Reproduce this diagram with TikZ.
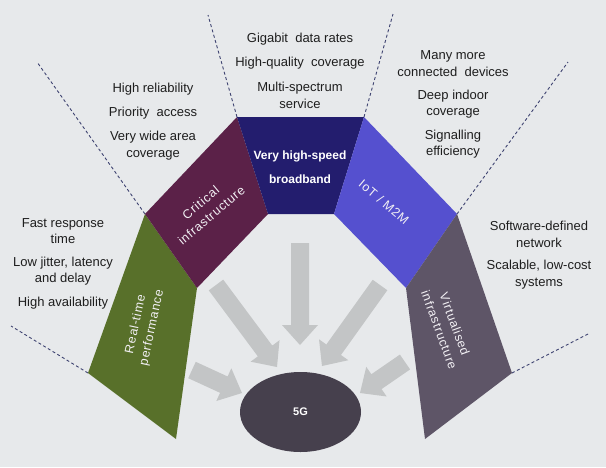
\documentclass[tikz,border=0pt]{standalone}
\usepackage{fontspec}
\setmainfont{Liberation Sans}
\usetikzlibrary{calc,shapes.geometric}
\definecolor{bgc}{HTML}{E7E9EB}
\definecolor{cgreen}{HTML}{58702A}
\definecolor{cmaroon}{HTML}{5B2148}
\definecolor{cnavy}{HTML}{231D6E}
\definecolor{ciot}{HTML}{5550CF}
\definecolor{cvirt}{HTML}{5E5567}
\definecolor{cfive}{HTML}{46404D}
\definecolor{carrow}{HTML}{C3C5C6}
\definecolor{cdash}{HTML}{3D4270}
\definecolor{ctext}{HTML}{1E1E1E}
\definecolor{clabel}{HTML}{F2F0F4}
\newcommand\blockarrow[2]{%
  \coordinate (#2b) at ($(#2)!20pt!(#1)$);
  \fill[carrow] ($(#1)!9pt!90:(#2)$) -- ($(#2b)!9pt!90:(#2)$) -- ($(#2b)!18pt!90:(#2)$)
    -- (#2) -- ($(#2b)!18pt!-90:(#2)$) -- ($(#2b)!9pt!-90:(#2)$) -- ($(#1)!9pt!-90:(#2)$) -- cycle;}
\begin{document}
\begin{tikzpicture}[x=1pt,y=-1pt,
  info/.style={text=ctext,align=center,inner sep=0pt,font=\fontsize{13}{16.5}\selectfont},
  seglabel/.style={text=clabel,align=center,inner sep=0pt,font=\fontsize{12.5}{16.5}\selectfont\addfontfeatures{LetterSpace=6}},
  guide/.style={cdash,line width=0.9pt,dash pattern=on 3pt off 2.5pt}]
\useasboundingbox (0,0) rectangle (606,467);
\fill[bgc] (0,0) rectangle (606,467);
% vertices
\coordinate (A) at (145,214);
\coordinate (B) at (237,117);
\coordinate (C) at (364,117);
\coordinate (D) at (457,214);
\coordinate (E) at (512,373);
\coordinate (F) at (425,439);
\coordinate (G) at (406,288);
\coordinate (H) at (334,214);
\coordinate (I) at (268,214);
\coordinate (J) at (197,288);
\coordinate (K) at (176,439);
\coordinate (L) at (88,373);
% guide ends
\coordinate (a1) at (37,62);
\coordinate (b1) at (208,15);
\coordinate (c1) at (393,14);
\coordinate (d1) at (568,62);
\coordinate (l1) at (11,326);
\coordinate (e1) at (590,333);
\draw[guide] (A) -- (a1);
\draw[guide] (B) -- (b1);
\draw[guide] (C) -- (c1);
\draw[guide] (D) -- (d1);
\draw[guide] (L) -- (l1);
\draw[guide] (E) -- (e1);
% segments
\fill[cgreen] (A) -- (J) -- (K) -- (L) -- cycle;
\fill[cmaroon] (A) -- (B) -- (I) -- (J) -- cycle;
\fill[cnavy] (B) -- (C) -- (H) -- (I) -- cycle;
\fill[ciot] (C) -- (D) -- (G) -- (H) -- cycle;
\fill[cvirt] (D) -- (E) -- (F) -- (G) -- cycle;
% arrows
\coordinate (t1) at (192,370); \coordinate (h1) at (242,393);
\coordinate (t2) at (216,285); \coordinate (h2) at (277,367);
\coordinate (t3) at (300,243); \coordinate (h3) at (300,345);
\coordinate (t4) at (380,285); \coordinate (h4) at (322,366);
\coordinate (t5) at (405,362); \coordinate (h5) at (360,393);
\blockarrow{t1}{h1}
\blockarrow{t2}{h2}
\blockarrow{t3}{h3}
\blockarrow{t4}{h4}
\blockarrow{t5}{h5}
% 5G
\node[ellipse,fill=cfive,minimum width=121pt,minimum height=80pt,inner sep=0pt,
  text=white,font=\bfseries\fontsize{11}{13}\selectfont] (fiveg) at (300.5,412) {5G};
% segment labels
\node[seglabel,rotate=78] (rt) at (144,326) {Real-time\\performance};
\node[seglabel,rotate=40] (ci) at (206,209) {Critical\\infrastructure};
\node[text=white,align=center,inner sep=0pt,font=\bfseries\fontsize{12}{24}\selectfont] (bb) at (300,167) {Very high-speed\\broadband};
\node[seglabel,rotate=-40] (iot) at (384,202) {IoT / M2M};
\node[seglabel,rotate=-70] (vi) at (447,327) {Virtualised\\infrastructure};
% info texts
\node[info] (ci1) at (153,89) {High reliability};
\node[info] (ci2) at (153,113) {Priority\ \ access};
\node[info] (ci3) at (153,145.5) {Very wide area\\coverage};
\node[info] (bb1) at (300,39) {Gigabit\ \ data rates};
\node[info] (bb2) at (300,63) {High-quality\ \ coverage};
\node[info] (bb3) at (300,95.5) {Multi-spectrum\\service};
\node[info] (io1) at (453,63.5) {Many more\\connected\ \ devices};
\node[info] (io2) at (453,104) {Deep indoor\\coverage};
\node[info] (io3) at (453,144) {Signalling\\efficiency};
\node[info] (rt1) at (63,231) {Fast response\\time};
\node[info] (rt2) at (63,271) {Low jitter, latency\\and delay};
\node[info] (rt3) at (63,303) {High availability};
\node[info] (vi1) at (539,234.5) {Software-defined\\network};
\node[info] (vi2) at (539,274.5) {Scalable, low-cost\\systems};
\end{tikzpicture}
\end{document}
